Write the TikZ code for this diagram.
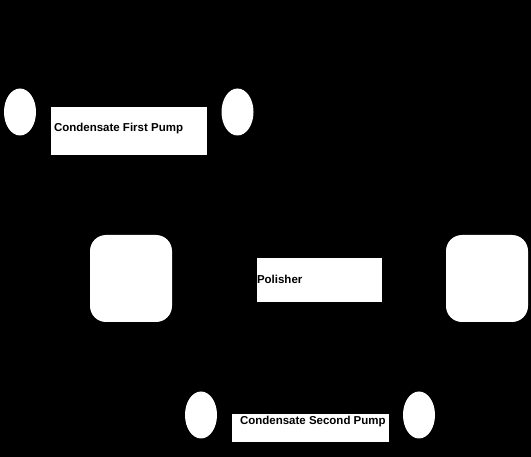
\documentclass[tikz,border=0pt]{standalone}
\usepackage{fontspec}
\setmainfont{Liberation Sans}
\usetikzlibrary{shapes.geometric,positioning}

\tikzset{
  pump/.style={ellipse, fill=white, minimum width=32pt, minimum height=47pt, inner sep=0pt},
  vessel/.style={rectangle, rounded corners=16pt, fill=white, minimum width=82pt, minimum height=87pt, inner sep=0pt},
  tag/.style={rectangle, fill=white, inner sep=0pt},
  tagtext/.style={font=\bfseries\fontsize{11.5}{13}\selectfont, inner sep=0pt, anchor=west}
}

\begin{document}
\begin{tikzpicture}[x=1pt,y=-1pt]
\fill[black] (0,0) rectangle (531,457);
\useasboundingbox (0,0) rectangle (531,457);

% first pump
\node[pump] (p1a) at (20,112) {};
\node[pump] (p1b) at (237.5,112) {};
\node[tag, minimum width=156pt, minimum height=48pt] (t1) at (129,131) {};
\node[tagtext] (t1txt) at ([xshift=3pt,yshift=2pt]t1.west) {Condensate First Pump};

% polisher
\node[vessel] (v1) at (131,278.5) {};
\node[vessel] (v2) at (487,278.5) {};
\node[tag, minimum width=125pt, minimum height=44pt] (t2) at (319.5,280) {};
\node[tagtext] (t2txt) at ([yshift=1pt]t2.west) {Polisher};

% second pump
\node[pump] (p2a) at (201,415) {};
\node[pump] (p2b) at (419,415) {};
\node[tag, minimum width=157pt, minimum height=28pt] (t3) at (310.5,428) {};
\node[tagtext] (t3txt) at ([xshift=8pt,yshift=6pt]t3.west) {Condensate Second Pump};

\end{tikzpicture}
\end{document}
